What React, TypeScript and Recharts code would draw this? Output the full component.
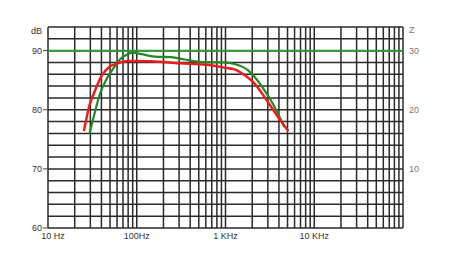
import { CartesianGrid, Line, LineChart, XAxis, YAxis } from "recharts";

// frequency response (dB SPL)
const redFreq = [25.4, 29.4, 33.5, 39.7, 49.3, 61.2, 79.2, 146, 304, 607, 1000, 1262, 1633, 2118, 2742, 3555, 4405, 5105];
const redDb = [76.4, 80.8, 83.05, 85.6, 87.28, 87.86, 88.25, 88.2, 87.85, 87.6, 87.1, 86.84, 85.88, 84.47, 82.2, 79.67, 77.7, 76.4];

const greenFreq = [29.4, 33.5, 38.1, 45.2, 56.1, 66.6, 75.9, 91, 113, 159, 245, 346, 511, 934, 1262, 1782, 2118, 2742, 3396, 4225, 4603];
const greenDb = [76.0, 79.4, 82.5, 85.03, 87.28, 88.7, 89.26, 89.65, 89.4, 89.0, 88.9, 88.5, 88.1, 88.0, 87.74, 86.72, 85.6, 83.34, 81.1, 78.26, 77.1];

// impedance trace (Z, right axis)
const zFreq = [10, 100000];
const zValues = [30, 30];

const decades = [10, 100, 1000, 10000];
const multiples = [1, 2, 3, 4, 5, 6, 7, 8, 9];
const freqTicks = decades.flatMap((d) => multiples.map((m) => m * d)).concat([100000]);
const xLabels: Record<number, string> = { 10: "10 Hz", 100: "100Hz", 1000: "1 KHz", 10000: "10 KHz" };

const dbTicks = [60, 62, 64, 66, 68, 70, 72, 74, 76, 78, 80, 82, 84, 86, 88, 90, 92, 94];
const dbLabels: Record<number, string> = { 60: "60", 70: "70", 80: "80", 90: "90", 94: "dB" };

const zTicks = [10, 20, 30, 34];
const zLabels: Record<number, string> = { 10: "10", 20: "20", 30: "30", 34: "Z" };

const redData = redFreq.map((f, i) => ({ f, v: redDb[i] }));
const greenData = greenFreq.map((f, i) => ({ f, v: greenDb[i] }));
const zData = zFreq.map((f, i) => ({ f, z: zValues[i] }));

const font = "Arial, 'Liberation Sans', sans-serif";

function XTick({ x, y, payload }: any) {
  const label = xLabels[payload.value];
  if (!label) return null;
  const dx = payload.value === 10 ? 5 : 0;
  return (
    <text x={x + dx} y={y + 11} textAnchor="middle" fontSize={9} fontFamily={font} fill="#333">
      {label}
    </text>
  );
}

function LeftTick({ x, y, payload }: any) {
  const label = dbLabels[payload.value];
  if (!label) return null;
  const isUnit = payload.value === 94;
  return (
    <g>
      {!isUnit && <line x1={x - 5} x2={x} y1={y} y2={y} stroke="#444" strokeWidth={1} />}
      <text x={x - 6} y={isUnit ? y + 7 : y + 3} textAnchor="end" fontSize={9} fontFamily={font} fill="#333">
        {label}
      </text>
    </g>
  );
}

function RightTick({ x, y, payload }: any) {
  const label = zLabels[payload.value];
  if (!label) return null;
  const isUnit = payload.value === 34;
  return (
    <text x={x + 6} y={isUnit ? y + 6 : y + 3} textAnchor="start" fontSize={9} fontFamily={font} fill="#777">
      {label}
    </text>
  );
}

export default function App() {
  return (
    <div style={{ width: 450, height: 263, background: "#fff" }}>
      <style>{"body{margin:0}"}</style>
      <LineChart width={450} height={263} margin={{ top: 27, right: 0, bottom: 0, left: 0 }}>
        <CartesianGrid yAxisId="db" stroke="#2a2a2a" strokeWidth={1.5} />
        <XAxis
          dataKey="f"
          type="number"
          scale="log"
          domain={[10, 100000]}
          ticks={freqTicks}
          allowDataOverflow
          height={35}
          tickSize={0}
          tickMargin={0}
          axisLine={false}
          tickLine={false}
          tick={<XTick />}
          interval={0}
        />
        <YAxis
          yAxisId="db"
          type="number"
          domain={[60, 94]}
          ticks={dbTicks}
          width={48}
          tickSize={0}
          tickMargin={0}
          axisLine={false}
          tickLine={false}
          tick={<LeftTick />}
          interval={0}
        />
        <YAxis
          yAxisId="z"
          orientation="right"
          type="number"
          domain={[0, 34]}
          ticks={zTicks}
          width={47}
          tickSize={0}
          tickMargin={0}
          axisLine={false}
          tickLine={false}
          tick={<RightTick />}
          interval={0}
        />
        <Line yAxisId="z" data={zData} dataKey="z" type="linear" stroke="#2f9a35" strokeWidth={2} dot={false} isAnimationActive={false} />
        <Line yAxisId="db" data={greenData} dataKey="v" type="monotone" stroke="#1f8a24" strokeWidth={2.2} dot={false} isAnimationActive={false} />
        <Line yAxisId="db" data={redData} dataKey="v" type="monotone" stroke="#ee1c1c" strokeWidth={2.5} dot={false} isAnimationActive={false} />
      </LineChart>
    </div>
  );
}
